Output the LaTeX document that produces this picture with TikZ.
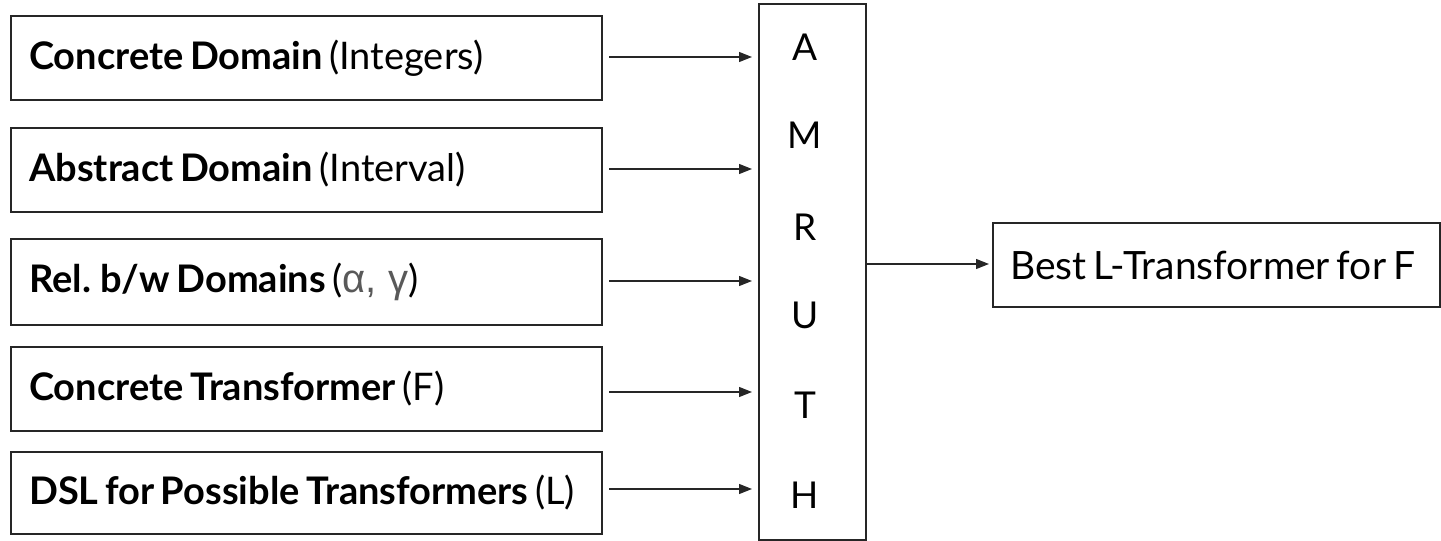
\documentclass[tikz,border=0pt]{standalone}
\usepackage{fontspec}
\setmainfont{Lato}[WordSpace=0.7]
\newfontfamily\greekfont{Liberation Sans}
\usetikzlibrary{arrows.meta}
\definecolor{greekgray}{HTML}{595959}
\tikzset{
  inbox/.style={draw=black!85, line width=1.3pt, rectangle},
  flow/.style={draw=black!85, line width=1.3pt, -{Triangle[length=13pt,width=10pt]}},
  lbl/.style={font=\fontsize{38}{44}\selectfont, anchor=west, inner sep=0pt},
  letter/.style={font=\fontsize{37}{42}\selectfont, inner sep=0pt},
}
\begin{document}
\begin{tikzpicture}[x=1pt,y=-1pt]
\useasboundingbox (0,0) rectangle (1441,541);

% input boxes
\draw[inbox] (11,16) rectangle (602,100);
\draw[inbox] (11,128) rectangle (602,212);
\draw[inbox] (11,239) rectangle (602,325);
\draw[inbox] (11,347) rectangle (602,431);
\draw[inbox] (11,452) rectangle (602,534);

\node[lbl] (t1) at (29,58) {\textbf{Concrete Domain} (Integers)};
\node[lbl] (t2) at (29,170) {\textbf{Abstract Domain} (Interval)};
\node[lbl] (t3) at (29,282) {\textbf{Rel. b/w Domains} ({\greekfont\fontsize{40}{44}\selectfont\color{greekgray}α, γ})};
\node[lbl] (t4) at (29,389) {\textbf{Concrete Transformer} (F)};
\node[lbl] (t5) at (29,493) {\textbf{DSL for Possible Transformers} (L)};

% central engine
\draw[inbox] (759,4) rectangle (866,540);
\node[letter] (lA) at (805,47) {A};
\node[letter] (lM) at (805,135) {M};
\node[letter] (lR) at (805,227) {R};
\node[letter] (lU) at (805,315) {U};
\node[letter] (lT) at (805,405) {T};
\node[letter] (lH) at (805,495) {H};

% output box
\draw[inbox] (993,223) rectangle (1440,307);
\node[font=\fontsize{39}{44}\selectfont, anchor=west, inner sep=0pt] (out) at (1010,265) {Best L-Transformer for F};

% connectors
\coordinate (s1) at (609,57);  \coordinate (e1) at (752,57);
\coordinate (s2) at (609,169); \coordinate (e2) at (752,169);
\coordinate (s3) at (609,281); \coordinate (e3) at (752,281);
\coordinate (s4) at (609,392); \coordinate (e4) at (752,392);
\coordinate (s5) at (609,489); \coordinate (e5) at (752,489);
\coordinate (so) at (866,264); \coordinate (eo) at (989,264);
\foreach \i in {1,...,5} \draw[flow] (s\i) -- (e\i);
\draw[flow] (so) -- (eo);
\end{tikzpicture}
\end{document}
